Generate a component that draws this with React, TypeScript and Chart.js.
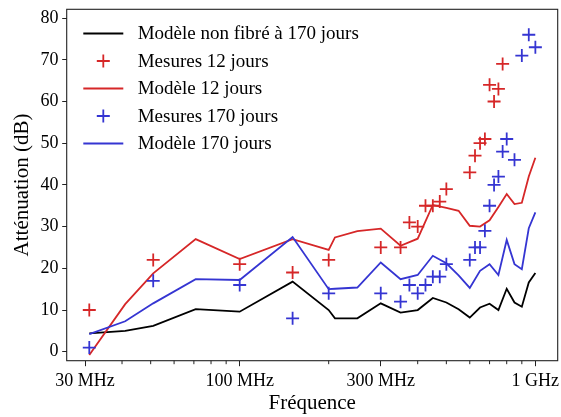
import { useEffect, useRef } from 'react';
import { Chart, registerables } from 'chart.js';

Chart.register(...registerables);

// Frequencies in MHz
const modelFreq = [31, 41, 51, 71, 100, 151, 200, 210, 250, 300, 350, 400, 450, 500, 550, 600, 650, 700, 750, 800, 850, 900, 950, 1000];
const modelNonFibre = [4.4, 5.0, 6.2, 10.2, 9.6, 16.8, 10.0, 8.0, 8.0, 11.6, 9.4, 10.0, 12.9, 11.8, 10.2, 8.2, 10.6, 11.5, 10.0, 15.1, 11.8, 10.8, 16.6, 18.9];
const model12 = [-0.8, 11.4, 18.8, 27.0, 22.2, 27.0, 24.4, 27.4, 28.9, 29.5, 25.4, 27.1, 35.2, 34.5, 33.8, 30.2, 30.0, 31.5, 34.7, 37.8, 35.4, 35.7, 42.0, 46.5];
const model170 = [4.2, 7.3, 11.6, 17.4, 17.2, 27.5, 15.0, 15.1, 15.4, 21.4, 17.4, 18.4, 23.0, 21.2, 18.3, 15.3, 19.4, 21.0, 18.4, 26.8, 21.0, 19.8, 29.6, 33.4];

const meas12Freq = [31, 51, 100, 151, 200, 300, 350, 375, 400, 425, 450, 475, 500, 600, 625, 650, 675, 700, 725, 750, 775];
const meas12 = [10, 22, 21, 19, 22, 25, 25, 31, 30, 35, 35, 36, 39, 43, 47, 50, 51, 64, 60, 63, 69];

const meas170Freq = [31, 51, 100, 151, 200, 300, 350, 375, 400, 425, 450, 475, 500, 600, 625, 650, 675, 700, 725, 750, 775, 800, 850, 900, 950, 1000];
const meas170 = [1, 17, 16, 8, 14, 14, 12, 16, 14, 16, 18, 18, 21, 22, 25, 25, 29, 35, 40, 42, 48, 51, 46, 71, 76, 73];

const xTickValues = [30, 40, 50, 60, 70, 80, 90, 100, 200, 300, 400, 500, 600, 700, 800, 900, 1000];
const xTickLabels: Record<number, string> = { 30: '30 MHz', 100: '100 MHz', 300: '300 MHz', 1000: '1 GHz' };
const yTickValues = [0, 10, 20, 30, 40, 50, 60, 70, 80];

const labels = [
  'Modèle non fibré à 170 jours',
  'Mesures 12 jours',
  'Modèle 12 jours',
  'Mesures 170 jours',
  'Modèle 170 jours',
];

const SERIF = '"Liberation Serif", "Times New Roman", Times, serif';
const RED = '#d62728';
const BLUE = '#3535d2';

export default function App() {
  const ref = useRef<HTMLCanvasElement>(null);

  useEffect(() => {
    const canvas = ref.current;
    if (!canvas) return;
    const toXY = (xs: number[], ys: number[]) => xs.map((x, i) => ({ x, y: ys[i] }));

    const datasets: any[] = [
      { label: labels[0], data: toXY(modelFreq, modelNonFibre), borderColor: '#000', borderWidth: 1.8, pointRadius: 0, showLine: true, order: 5 },
      { label: labels[1], data: toXY(meas12Freq, meas12), borderColor: RED, pointBorderColor: RED, backgroundColor: RED, showLine: false, pointStyle: 'cross', pointRadius: 6.5, pointBorderWidth: 1.8, order: 4 },
      { label: labels[2], data: toXY(modelFreq, model12), borderColor: RED, borderWidth: 1.8, pointRadius: 0, showLine: true, order: 3 },
      { label: labels[3], data: toXY(meas170Freq, meas170), borderColor: BLUE, pointBorderColor: BLUE, backgroundColor: BLUE, showLine: false, pointStyle: 'cross', pointRadius: 6.5, pointBorderWidth: 1.8, order: 2 },
      { label: labels[4], data: toXY(modelFreq, model170), borderColor: BLUE, borderWidth: 1.8, pointRadius: 0, showLine: true, order: 1 },
    ];

    const decor = {
      id: 'decor',
      afterDraw(chart: any) {
        const ctx = chart.ctx;
        const ca = chart.chartArea;
        ctx.save();
        // frame
        ctx.strokeStyle = '#222';
        ctx.lineWidth = 1.1;
        ctx.strokeRect(ca.left, ca.top, ca.right - ca.left, ca.bottom - ca.top);
        // minor ticks
        const xs = chart.scales.x;
        ctx.lineWidth = 1;
        ctx.strokeStyle = '#222';
        xTickValues.forEach((v) => {
          if (xTickLabels[v]) return;
          const px = xs.getPixelForValue(v);
          ctx.beginPath();
          ctx.moveTo(px, ca.bottom);
          ctx.lineTo(px, ca.bottom + 3.5);
          ctx.stroke();
        });
        // legend
        const startY = 33.5;
        const step = 27.5;
        ctx.font = `19px ${SERIF}`;
        ctx.textBaseline = 'middle';
        ctx.textAlign = 'left';
        chart.data.datasets.forEach((ds: any, i: number) => {
          const y = startY + i * step;
          const col = ds.borderColor;
          ctx.strokeStyle = col;
          ctx.lineWidth = 1.8;
          if (ds.showLine === false) {
            const cx = 103.3;
            const r = 6.5;
            ctx.beginPath();
            ctx.moveTo(cx - r, y);
            ctx.lineTo(cx + r, y);
            ctx.moveTo(cx, y - r);
            ctx.lineTo(cx, y + r);
            ctx.stroke();
          } else {
            ctx.beginPath();
            ctx.moveTo(83.3, y);
            ctx.lineTo(123.3, y);
            ctx.stroke();
          }
          ctx.fillStyle = '#000';
          ctx.fillText(ds.label, 137.7, y + 1);
        });
        ctx.restore();
      },
    };

    const chart = new Chart(canvas, {
      type: 'line',
      data: { datasets },
      options: {
        responsive: false,
        animation: false,
        layout: { autoPadding: false, padding: { left: 0, right: 3.3, top: 9.3, bottom: 0 } },
        plugins: { legend: { display: false }, tooltip: { enabled: false } },
        scales: {
          x: {
            type: 'logarithmic',
            min: 26.0,
            max: 1190,
            afterBuildTicks: (s: any) => {
              s.ticks = xTickValues.map((v) => ({ value: v }));
            },
            afterFit: (s: any) => {
              s.height = 56.3;
              s.paddingLeft = 0;
              s.paddingRight = 0;
            },
            ticks: {
              autoSkip: false,
              maxRotation: 0,
              minRotation: 0,
              padding: 4.5,
              color: '#000',
              font: { family: SERIF, size: 18 },
              callback: (v: any) => xTickLabels[Number(v)] ?? '',
            },
            grid: {
              drawOnChartArea: false,
              drawTicks: true,
              tickLength: 5.5,
              tickWidth: 1,
              tickColor: (c: any) => (c.tick && xTickLabels[c.tick.value] ? '#222' : 'rgba(0,0,0,0)'),
            },
            border: { display: false },
            title: {
              display: true,
              text: 'Fréquence',
              color: '#000',
              font: { family: SERIF, size: 21 },
              padding: { top: 0, bottom: 0.8 },
            },
          },
          y: {
            type: 'linear',
            min: -2.15,
            max: 82.1,
            afterBuildTicks: (s: any) => {
              s.ticks = yTickValues.map((v) => ({ value: v }));
            },
            afterFit: (s: any) => {
              s.width = 66.7;
              s.paddingTop = 0;
              s.paddingBottom = 0;
            },
            ticks: {
              padding: 3.8,
              color: '#000',
              font: { family: SERIF, size: 18 },
              callback: (v: any) => String(v),
            },
            grid: {
              drawOnChartArea: false,
              drawTicks: true,
              tickLength: 4.5,
              tickWidth: 1,
              tickColor: '#222',
            },
            border: { display: false },
            title: {
              display: true,
              text: 'Atténuation (dB)',
              color: '#000',
              font: { family: SERIF, size: 21 },
              padding: { top: 10, bottom: 0 },
            },
          },
        },
      },
      plugins: [decor],
    } as any);

    return () => chart.destroy();
  }, []);

  return (
    <div style={{ position: 'absolute', left: 0, top: 0, width: 561, height: 417 }}>
      <canvas ref={ref} width={561} height={417} style={{ display: 'block' }} />
    </div>
  );
}
